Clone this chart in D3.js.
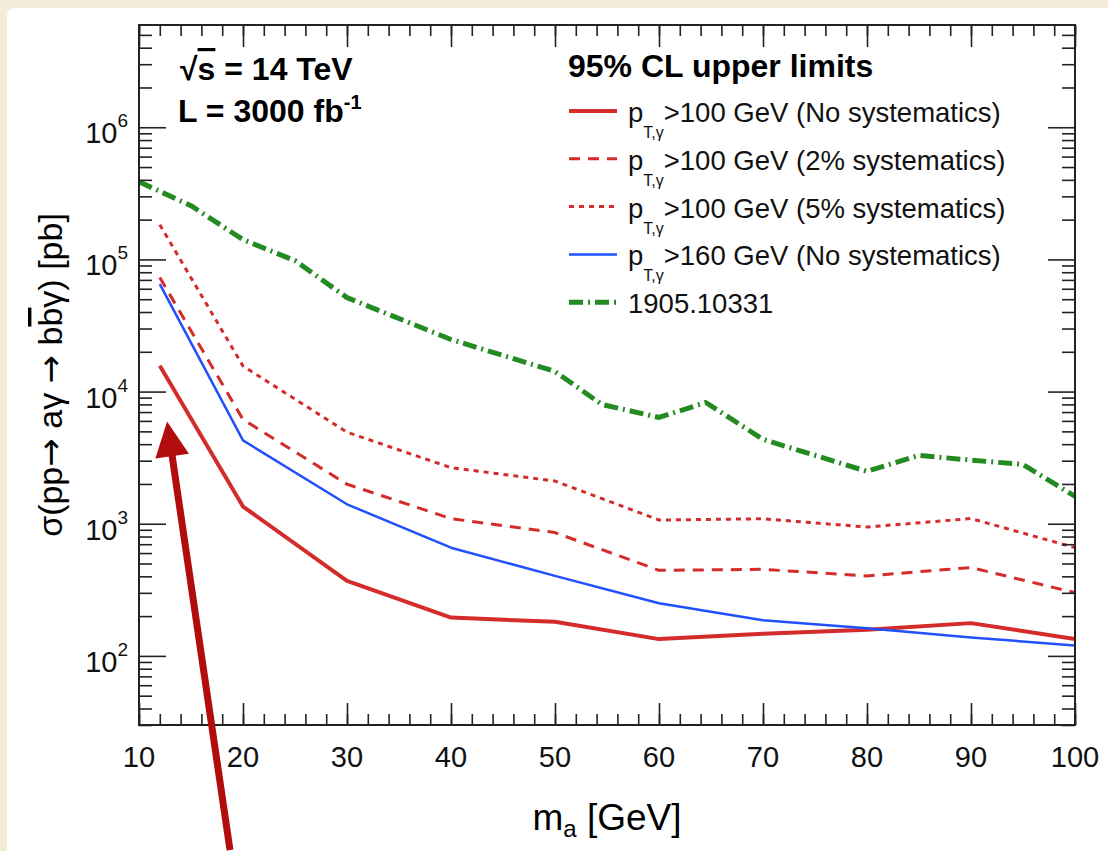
<!DOCTYPE html>
<html lang="en">
<head>
  <meta charset="UTF-8" />
  <title>95% CL upper limits on pp → aγ → bb̄γ</title>
  <style>
    html, body { margin: 0; padding: 0; background: #f4ebd9; }
    svg { display: block; font-family: "Liberation Sans", Arial, Helvetica, sans-serif; }
    .tick line { stroke: #222; stroke-width: 1.6px; }
    .frame { fill: none; stroke: #222; stroke-width: 2px; }
    .tick-label { font-size: 29px; fill: #111; }
    .legend-text { font-size: 27.5px; fill: #111; }
    .arrow-glyph { font-family: "DejaVu Sans", sans-serif; }
  </style>
</head>
<body>
  <svg width="1108" height="851"></svg>
  <script src="https://d3js.org/d3.v7.min.js"></script>
  <script>
    // mass points of this analysis [GeV]
    const massPoints = [12, 20, 30, 40, 50, 60, 70, 80, 90, 100];
    // 95% CL limits [pb]
    const ptCut100NoSys = [1.57e4, 1350, 369, 195, 181, 134, 147, 158, 177, 134];
    const ptCut100Sys2  = [7.3e4, 6150, 1990, 1094, 857, 444, 452, 403, 466, 301];
    const ptCut100Sys5  = [1.83e5, 1.56e4, 4930, 2655, 2104, 1067, 1090, 944, 1095, 659];
    const ptCut160NoSys = [6.5e4, 4270, 1403, 659, 403, 250, 186, 162, 138, 120];

    // earlier result, arXiv 1905.10331
    const refMass  = [10, 15, 20, 25, 30, 40, 50, 54.5, 60, 64.5, 70, 80, 85, 90, 95, 100];
    const refLimit = [3.87e5, 2.55e5, 1.41e5, 9.8e4, 5.14e4, 2.48e4, 1.42e4, 7.99e3,
                      6.37e3, 8.27e3, 4.35e3, 2.49e3, 3.29e3, 3.03e3, 2.81e3, 1.61e3];

    const xTicks = [10, 20, 30, 40, 50, 60, 70, 80, 90, 100];
    const yDecades = [2, 3, 4, 5, 6];

    const legendLabels = [
      ">100 GeV (No systematics)",
      ">100 GeV (2% systematics)",
      ">100 GeV (5% systematics)",
      ">160 GeV (No systematics)",
      "1905.10331"
    ];

    // annotation arrow, in data coordinates (tail below the frame)
    const arrowFrom = [18.75, 3.4];
    const arrowTo = [12.7, 5940];

    const svg = d3.select("svg");
    const W = 1108, H = 851;
    const frame = { left: 139, top: 25, right: 1075, bottom: 725 };

    // white sheet on the beige page
    svg.append("rect")
      .attr("x", 7).attr("y", 8)
      .attr("width", W).attr("height", H)
      .attr("rx", 8)
      .attr("fill", "#fff");

    const x = d3.scaleLinear().domain([10, 100]).range([frame.left, frame.right]);
    const y = d3.scaleLog().domain([30, 5.94e6]).range([frame.bottom, frame.top]);

    const series = [
      { m: massPoints, v: ptCut100NoSys, color: "#d42b2b", width: 4, dash: null },
      { m: massPoints, v: ptCut100Sys2,  color: "#d42b2b", width: 3, dash: "11 8" },
      { m: massPoints, v: ptCut100Sys5,  color: "#d42b2b", width: 3, dash: "5 5" },
      { m: massPoints, v: ptCut160NoSys, color: "#2150ff", width: 2.5, dash: null },
      { m: refMass,    v: refLimit,      color: "#238b22", width: 5, dash: "14 5 2 5" }
    ];

    const line = d3.line()
      .x(d => x(d[0]))
      .y(d => y(d[1]));

    const clip = svg.append("defs").append("clipPath").attr("id", "plot-clip");
    clip.append("rect")
      .attr("x", frame.left).attr("y", frame.top)
      .attr("width", frame.right - frame.left)
      .attr("height", frame.bottom - frame.top);

    svg.append("g")
      .attr("clip-path", "url(#plot-clip)")
      .selectAll("path")
      .data(series)
      .join("path")
      .attr("d", s => line(d3.zip(s.m, s.v)))
      .attr("fill", "none")
      .attr("stroke", s => s.color)
      .attr("stroke-width", s => s.width)
      .attr("stroke-dasharray", s => s.dash)
      .attr("stroke-linejoin", "round");

    // axes: ticks on all four sides, ROOT style
    const xMinor = d3.range(10, 101, 2);
    const yMinor = [];
    for (let e = 1; e <= 6; e++) {
      for (let k = 2; k <= 9; k++) {
        const v = k * Math.pow(10, e);
        if (v >= 30 && v <= 5.94e6) yMinor.push(v);
      }
    }

    svg.append("g").attr("transform", `translate(0,${frame.bottom})`)
      .call(d3.axisTop(x).tickValues(xTicks).tickSize(22).tickFormat(""))
      .call(g => g.select(".domain").remove());
    svg.append("g").attr("transform", `translate(0,${frame.bottom})`)
      .call(d3.axisTop(x).tickValues(xMinor).tickSize(11).tickFormat(""))
      .call(g => g.select(".domain").remove());
    svg.append("g").attr("transform", `translate(0,${frame.top})`)
      .call(d3.axisBottom(x).tickValues(xTicks).tickSize(22).tickFormat(""))
      .call(g => g.select(".domain").remove());
    svg.append("g").attr("transform", `translate(0,${frame.top})`)
      .call(d3.axisBottom(x).tickValues(xMinor).tickSize(11).tickFormat(""))
      .call(g => g.select(".domain").remove());

    const yMajor = yDecades.map(e => Math.pow(10, e));
    svg.append("g").attr("transform", `translate(${frame.left},0)`)
      .call(d3.axisRight(y).tickValues(yMajor).tickSize(27).tickFormat(""))
      .call(g => g.select(".domain").remove());
    svg.append("g").attr("transform", `translate(${frame.left},0)`)
      .call(d3.axisRight(y).tickValues(yMinor).tickSize(13).tickFormat(""))
      .call(g => g.select(".domain").remove());
    svg.append("g").attr("transform", `translate(${frame.right},0)`)
      .call(d3.axisLeft(y).tickValues(yMajor).tickSize(27).tickFormat(""))
      .call(g => g.select(".domain").remove());
    svg.append("g").attr("transform", `translate(${frame.right},0)`)
      .call(d3.axisLeft(y).tickValues(yMinor).tickSize(13).tickFormat(""))
      .call(g => g.select(".domain").remove());

    svg.append("rect").attr("class", "frame")
      .attr("x", frame.left).attr("y", frame.top)
      .attr("width", frame.right - frame.left)
      .attr("height", frame.bottom - frame.top);

    // tick labels
    svg.append("g").selectAll("text")
      .data(xTicks)
      .join("text")
      .attr("class", "tick-label")
      .attr("x", d => x(d))
      .attr("y", frame.bottom + 42)
      .attr("text-anchor", "middle")
      .text(d => d);

    const yLab = svg.append("g").selectAll("text")
      .data(yDecades)
      .join("text")
      .attr("class", "tick-label")
      .attr("x", 128)
      .attr("y", d => y(Math.pow(10, d)) + 16)
      .attr("text-anchor", "end");
    yLab.append("tspan").text("10");
    yLab.append("tspan").attr("dy", -16).style("font-size", "19px").text(d => d);

    // axis titles
    const xTitle = svg.append("text")
      .attr("x", (frame.left + frame.right) / 2)
      .attr("y", 830)
      .attr("text-anchor", "middle")
      .style("font-size", "37px");
    xTitle.append("tspan").text("m");
    xTitle.append("tspan").attr("dy", 7).style("font-size", "24px").text("a");
    xTitle.append("tspan").attr("dy", -7).text(" [GeV]");

    const yTitle = svg.append("text")
      .attr("transform", `translate(62,${(frame.top + frame.bottom) / 2}) rotate(-90)`)
      .attr("text-anchor", "middle")
      .style("font-size", "34px");
    yTitle.append("tspan").text("σ(pp");
    yTitle.append("tspan").attr("class", "arrow-glyph").text("→");
    yTitle.append("tspan").text(" aγ ");
    yTitle.append("tspan").attr("class", "arrow-glyph").text("→");
    yTitle.append("tspan").text(" b");
    yTitle.append("tspan").style("text-decoration", "overline").text("b");
    yTitle.append("tspan").text("γ) [pb]");

    // top-left labels
    const sqrtS = svg.append("text")
      .attr("x", 180).attr("y", 80)
      .style("font-size", "32px").style("font-weight", "bold");
    sqrtS.append("tspan").text("√");
    sqrtS.append("tspan").style("text-decoration", "overline").text("s");
    sqrtS.append("tspan").text(" = 14 TeV");

    const lumi = svg.append("text")
      .attr("x", 178).attr("y", 122)
      .style("font-size", "32px").style("font-weight", "bold");
    lumi.append("tspan").text("L = 3000 fb");
    lumi.append("tspan").attr("dy", -13).style("font-size", "20px").text("-1");

    // legend
    const legend = svg.append("g");
    legend.append("text")
      .attr("x", 568).attr("y", 77)
      .style("font-size", "32px").style("font-weight", "bold")
      .text("95% CL upper limits");

    const rowY = i => 111 + i * 47.8;
    const rows = legend.selectAll("g.row")
      .data(series)
      .join("g")
      .attr("class", "row");

    rows.append("line")
      .attr("x1", 569).attr("x2", 617)
      .attr("y1", (d, i) => rowY(i)).attr("y2", (d, i) => rowY(i))
      .attr("stroke", d => d.color)
      .attr("stroke-width", d => d.width)
      .attr("stroke-dasharray", d => d.dash);

    const rowText = rows.append("text")
      .attr("class", "legend-text")
      .attr("x", 628)
      .attr("y", (d, i) => rowY(i) + 11);
    rowText.each(function (d, i) {
      const t = d3.select(this);
      if (i < 4) {
        t.append("tspan").text("p");
        t.append("tspan").attr("dy", 16).style("font-size", "16px").text("T,γ");
        t.append("tspan").attr("dy", -16).text(legendLabels[i]);
      } else {
        t.text(legendLabels[i]);
      }
    });

    // red arrow pointing at the low-mass end
    const tail = [x(arrowFrom[0]), y(arrowFrom[1])];
    const tip = [x(arrowTo[0]), y(arrowTo[1])];
    const dx = tip[0] - tail[0], dy = tip[1] - tail[1];
    const len = Math.hypot(dx, dy);
    const ux = dx / len, uy = dy / len;
    const headLen = 35, headHalf = 17;
    const base = [tip[0] - ux * headLen, tip[1] - uy * headLen];
    svg.append("line")
      .attr("x1", tail[0]).attr("y1", tail[1])
      .attr("x2", base[0] + ux * 2).attr("y2", base[1] + uy * 2)
      .attr("stroke", "#b20d0d")
      .attr("stroke-width", 7);
    svg.append("path")
      .attr("d", d3.line()([
        tip,
        [base[0] - uy * headHalf, base[1] + ux * headHalf],
        [base[0] + uy * headHalf, base[1] - ux * headHalf]
      ]) + "Z")
      .attr("fill", "#b20d0d");
  </script>
</body>
</html>
